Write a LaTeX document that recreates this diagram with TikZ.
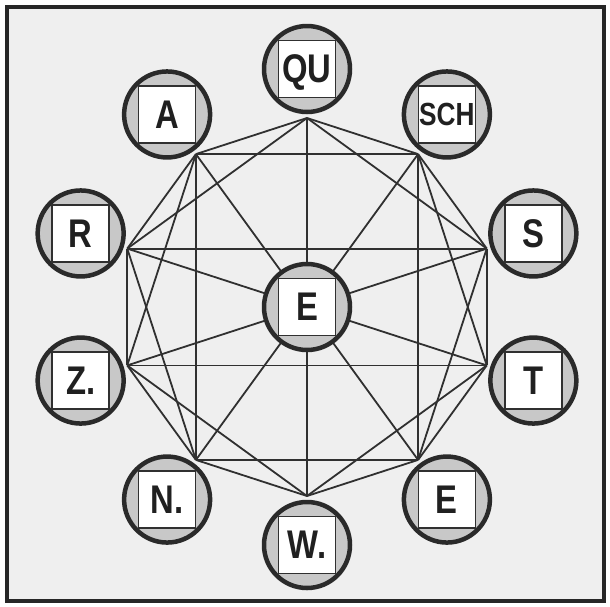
\documentclass[tikz,border=0pt]{standalone}
\usepackage{fontspec}
\newfontfamily\labfont[FakeStretch=0.82]{Liberation Sans}
\definecolor{linec}{HTML}{303030}
\definecolor{ringc}{HTML}{2A2A2A}
\definecolor{ringfill}{HTML}{C8C8C8}
\definecolor{bgc}{HTML}{EFEFEF}
\definecolor{framec}{HTML}{262626}
\definecolor{textc}{HTML}{202020}
\begin{document}
\begin{tikzpicture}[x=1pt,y=-1pt,
  edge/.style={draw=linec, line width=1.8pt},
  ring/.style={circle, draw=ringc, line width=4.5pt, fill=ringfill, minimum size=86pt, inner sep=0pt},
  sq/.style={rectangle, draw=linec, line width=1.6pt, fill=white, minimum size=57pt, inner sep=0pt,
    text=textc, text depth=0pt, text height=27.5pt, font=\labfont\bfseries\fontsize{40}{40}\selectfont},
  sqsmall/.style={sq, text height=22pt, font=\labfont\bfseries\fontsize{32}{32}\selectfont},
  framebox/.style={draw=framec, line width=4pt, fill=bgc}]
\useasboundingbox (0,0) rectangle (610,606);
\path[framebox] (7,7) rectangle (604,601);
% line vertices (regular decagon) and centre
\coordinate (cc) at (307,307);
\foreach \k in {0,...,9}
  \coordinate (v\k) at ({307+189*cos(90+36*\k)},{307-189*sin(90+36*\k)});
% decagon sides, chords of step 2, spokes
\foreach \k in {0,...,9}{
  \pgfmathtruncatemacro{\ja}{mod(\k+1,10)}
  \pgfmathtruncatemacro{\jb}{mod(\k+2,10)}
  \draw[edge] (v\k) -- (v\ja);
  \draw[edge] (v\k) -- (v\jb);
  \draw[edge] (v\k) -- (cc);
}
% vertical and horizontal chords
\draw[edge] (v1) -- (v4);
\draw[edge] (v9) -- (v6);
\draw[edge] (v2) -- (v8);
\draw[edge] (v3) -- (v7);
% centre letter
\node[ring] (c) at (cc) {};
\node[sq] (cs) at (c) {E};
% outer letters
\foreach \k/\t in {0/QU,1/A,2/R,3/Z.,4/N.,5/W.,6/E,7/T,8/S}{
  \node[ring] (n\k) at ({307+238*cos(90+36*\k)},{307-238*sin(90+36*\k)}) {};
  \node[sq] (s\k) at (n\k) {\t};
}
\node[ring] (n9) at ({307+238*cos(90+36*9)},{307-238*sin(90+36*9)}) {};
\node[sqsmall] (s9) at (n9) {SCH};
\end{tikzpicture}
\end{document}
